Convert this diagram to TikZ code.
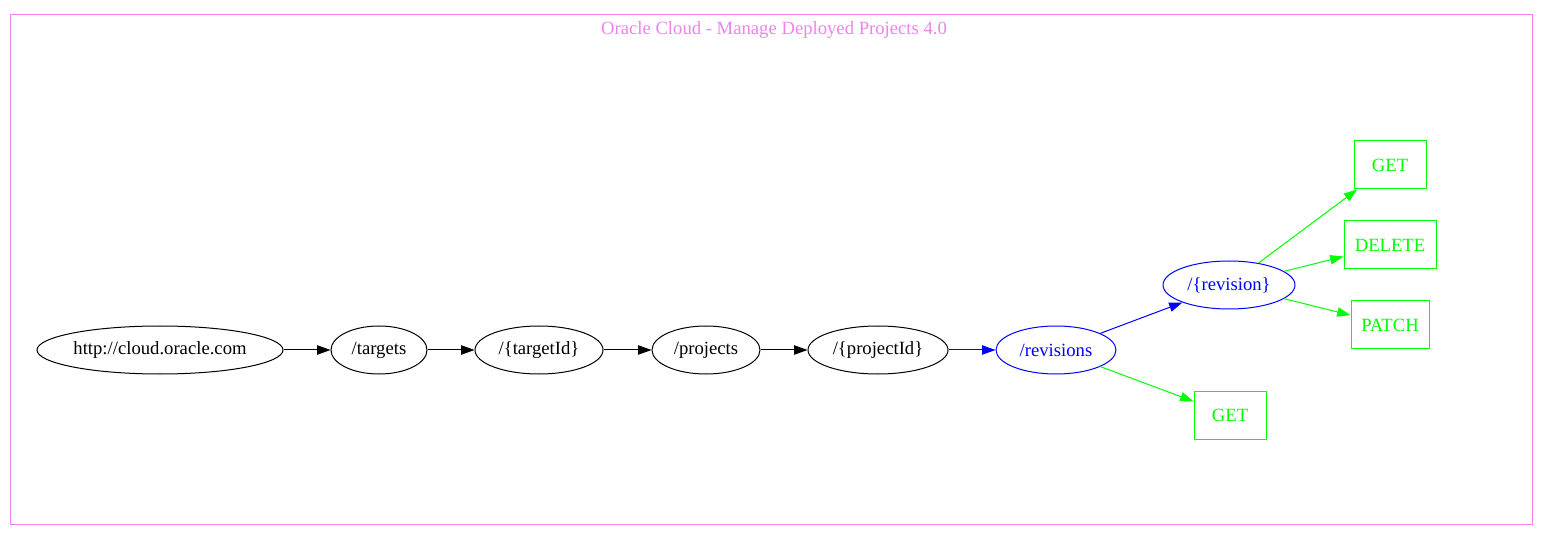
\documentclass[tikz,border=0pt]{standalone}
\usepackage{fontspec}
\setmainfont{Liberation Serif}
\usetikzlibrary{shapes.geometric,arrows.meta}
\definecolor{gvgreen}{HTML}{00FF00}
\definecolor{gvblue}{HTML}{0000FF}
\definecolor{gvviolet}{HTML}{EE82EE}
\tikzset{
  ell/.style={ellipse,draw,line width=0.75pt,inner sep=0pt,minimum height=36pt,font=\fontsize{14}{16}\selectfont},
  res/.style={ell,draw=gvblue,text=gvblue},
  verb/.style={rectangle,draw=gvgreen,line width=0.75pt,text=gvgreen,inner sep=0pt,minimum height=36pt,font=\fontsize{14}{16}\selectfont},
  edge/.style={-{Triangle[length=10pt,width=7pt]},line width=0.75pt},
  bedge/.style={edge,gvblue},
  gedge/.style={edge,gvgreen}
}
\begin{document}
\begin{tikzpicture}[x=0.75pt,y=-0.75pt]
\useasboundingbox (0,0) rectangle (1548,541);
\draw[gvviolet,line width=0.75pt] (10,15) rectangle (1532,524);
\node[text=gvviolet,font=\fontsize{14}{16}\selectfont] (title) at (774,30) {Oracle Cloud - Manage Deployed Projects 4.0};
\node[ell,minimum width=184.5pt] (root) at (160,350) {http://cloud.oracle.com};
\node[ell,minimum width=72pt] (targets) at (379,350) {/targets};
\node[ell,minimum width=96pt] (targetId) at (539,350) {/\{targetId\}};
\node[ell,minimum width=81pt] (projects) at (706,350) {/projects};
\node[ell,minimum width=105pt] (projectId) at (878,350) {/\{projectId\}};
\node[res,minimum width=90pt] (revisions) at (1056,350) {/revisions};
\node[res,minimum width=99pt] (revision) at (1229,285) {/\{revision\}};
\node[verb,minimum width=54pt] (get1) at (1390,165) {GET};
\node[verb,minimum width=69pt] (delete) at (1390,245) {DELETE};
\node[verb,minimum width=58.5pt] (patch) at (1390,325) {PATCH};
\node[verb,minimum width=54pt] (get2) at (1230,415) {GET};
\draw[edge] (root) -- (targets);
\draw[edge] (targets) -- (targetId);
\draw[edge] (targetId) -- (projects);
\draw[edge] (projects) -- (projectId);
\draw[bedge] (projectId) -- (revisions);
\draw[bedge] (revisions) -- (revision);
\draw[gedge] (revision) -- (get1);
\draw[gedge] (revision) -- (delete);
\draw[gedge] (revision) -- (patch);
\draw[gedge] (revisions) -- (get2);
\end{tikzpicture}
\end{document}
